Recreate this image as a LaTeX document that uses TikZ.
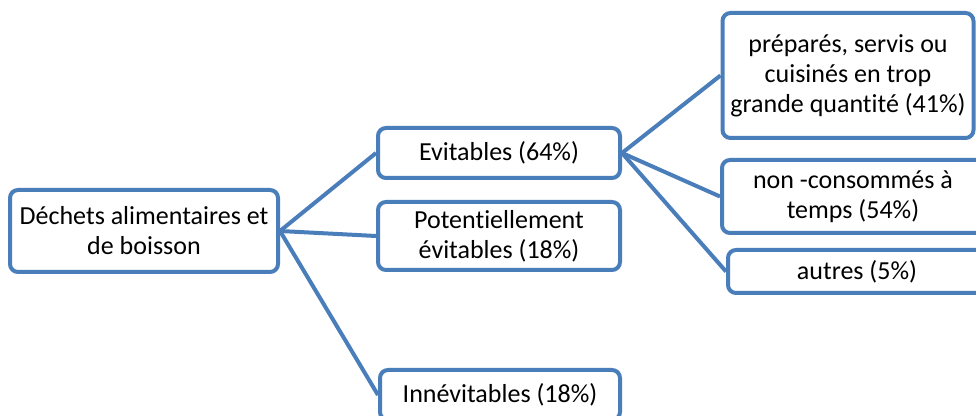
\documentclass[tikz,border=0pt]{standalone}
\usepackage{fontspec}
\setmainfont{Carlito}[Ligatures=NoCommon]
\usepackage{tikz}
\definecolor{azul}{RGB}{74,126,187}

\begin{document}
\begin{tikzpicture}[
  x=0.5pt,y=-0.5pt,
  caixa/.style={draw=azul,fill=white,line width=2pt,rounded corners=4pt,align=center,inner sep=0pt,
    font=\fontsize{13}{15}\selectfont},
  liga/.style={draw=azul,line width=2pt}
]
\clip (0,0) rectangle (976,416);
\fill[white] (0,0) rectangle (976,416);
\node[caixa,minimum width=134pt,minimum height=41pt] (dech) at (144,231) {Déchets alimentaires et\\de boisson};
\node[caixa,minimum width=121pt,minimum height=25pt] (evit) at (499,153) {Evitables (64\%)};
\node[caixa,minimum width=121pt,minimum height=34pt] (pot) at (499,236) {Potentiellement\\évitables (18\%)};
\node[caixa,minimum width=120pt,minimum height=25pt] (inn) at (500,395) {Innévitables (18\%)};
\node[caixa,minimum width=125.5pt,minimum height=62.5pt] (prep) at (848,75.5) {préparés, servis ou\\cuisinés en trop\\grande quantité (41\%)};
\node[caixa,minimum width=131pt,minimum height=36.5pt] (nonc) at (853,196.5) {non -consommés à\\temps (54\%)};
\node[caixa,minimum width=129pt,minimum height=21.5pt] (autr) at (857,271.5) {autres (5\%)};
\draw[liga] (dech.east)--(evit.west);
\draw[liga] (dech.east)--(pot.west);
\draw[liga] (dech.east)--(inn.west);
\draw[liga] (evit.east)--(prep.west);
\draw[liga] (evit.east)--(nonc.west);
\draw[liga] (evit.east)--(autr.west);
\end{tikzpicture}
\end{document}
